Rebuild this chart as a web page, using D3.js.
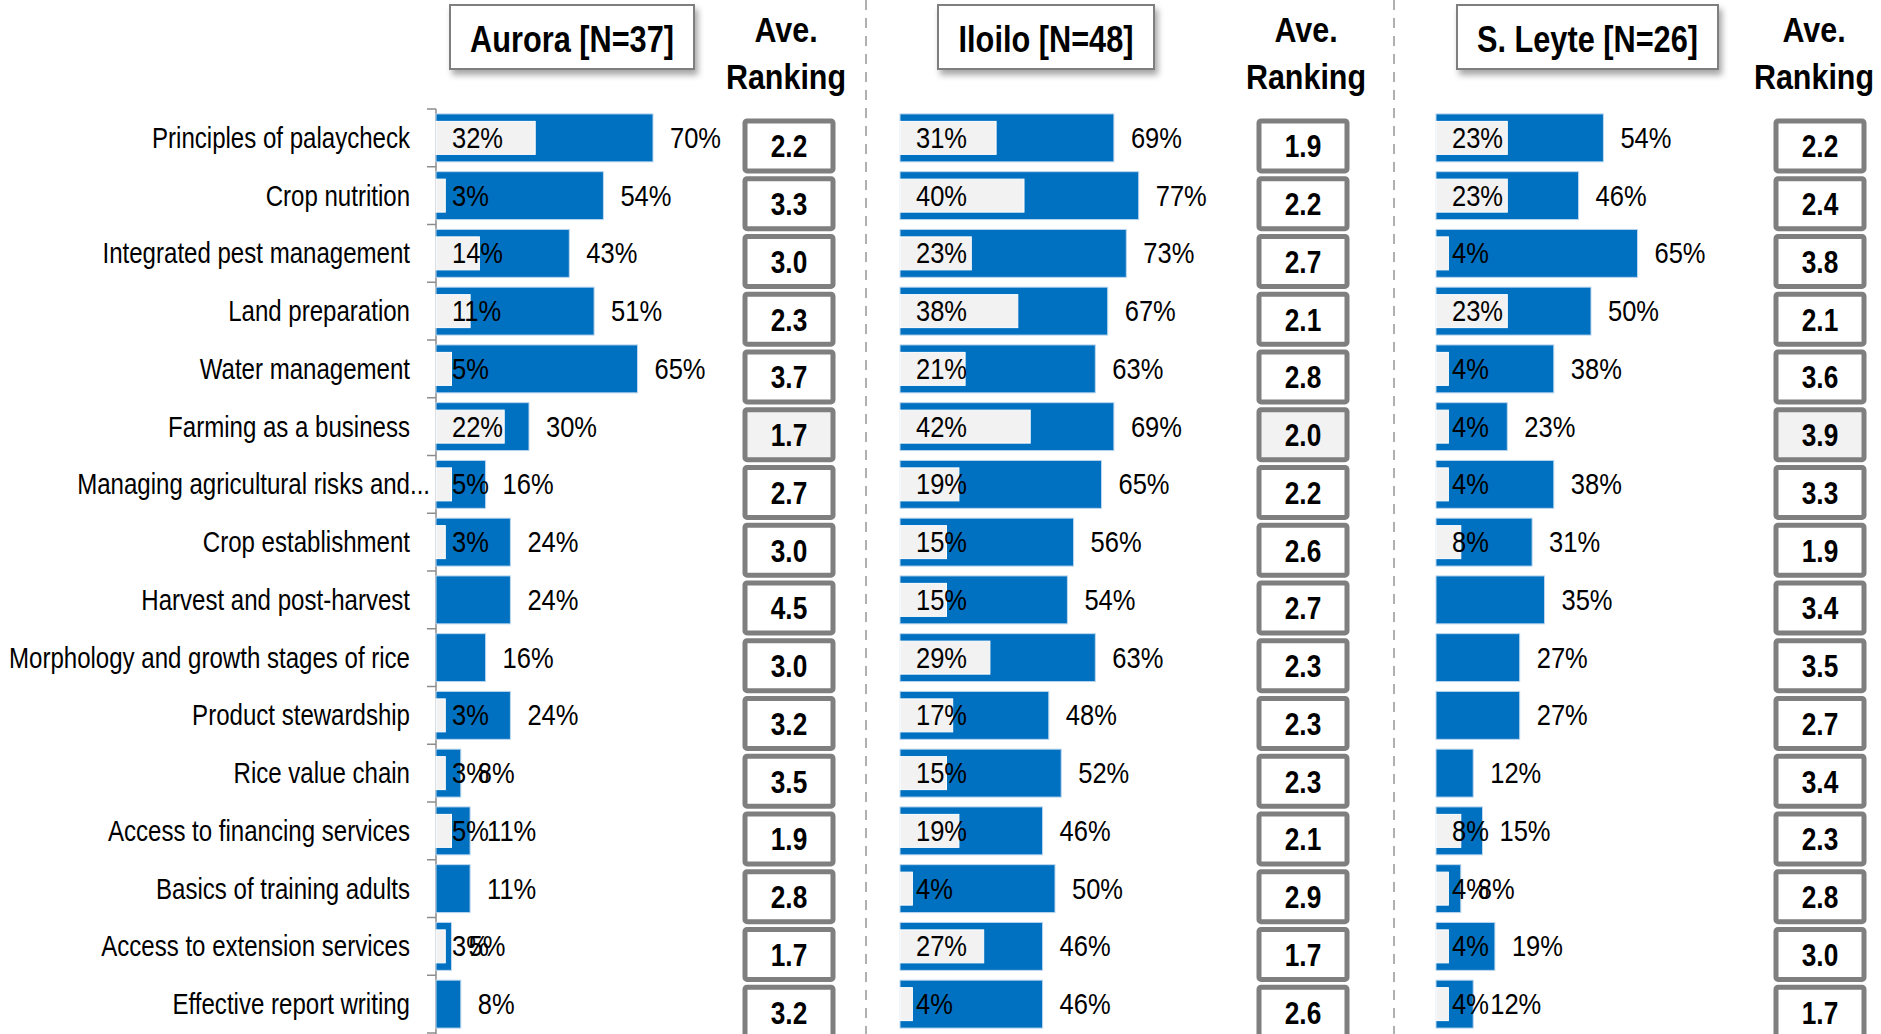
<!DOCTYPE html>
<html>
<head>
<meta charset="utf-8">
<script src="https://cdn.jsdelivr.net/npm/d3@7"></script>
<style>
  body { margin: 0; background: #fff; }
  svg text { font-family: "Liberation Sans", Arial, sans-serif; fill: #000; }
</style>
</head>
<body>
<div id="chart"></div>
<script>
// topics, top to bottom
const topics = [
  "Principles of palaycheck", "Crop nutrition", "Integrated pest management",
  "Land preparation", "Water management", "Farming as a business",
  "Managing agricultural risks and...", "Crop establishment",
  "Harvest and post-harvest", "Morphology and growth stages of rice",
  "Product stewardship", "Rice value chain", "Access to financing services",
  "Basics of training adults", "Access to extension services",
  "Effective report writing"
];

const provinces = ["Aurora [N=37]", "Iloilo [N=48]", "S. Leyte [N=26]"];

// outer (blue) bars, %
const auroraTotal = [70, 54, 43, 51, 65, 30, 16, 24, 24, 16, 24, 8, 11, 11, 5, 8];
const iloiloTotal = [69, 77, 73, 67, 63, 69, 65, 56, 54, 63, 48, 52, 46, 50, 46, 46];
const leyteTotal  = [54, 46, 65, 50, 38, 23, 38, 31, 35, 27, 27, 12, 15, 8, 19, 12];

// inner (light) bars, %  (null = none)
const auroraInner = [32, 3, 14, 11, 5, 22, 5, 3, null, null, 3, 3, 5, null, 3, null];
const iloiloInner = [31, 40, 23, 38, 21, 42, 19, 15, 15, 29, 17, 15, 19, 4, 27, 4];
const leyteInner  = [23, 23, 4, 23, 4, 4, 4, 8, null, null, null, null, 8, 4, 4, 4];

// average ranking
const auroraRank = [2.2, 3.3, 3.0, 2.3, 3.7, 1.7, 2.7, 3.0, 4.5, 3.0, 3.2, 3.5, 1.9, 2.8, 1.7, 3.2];
const iloiloRank = [1.9, 2.2, 2.7, 2.1, 2.8, 2.0, 2.2, 2.6, 2.7, 2.3, 2.3, 2.3, 2.1, 2.9, 1.7, 2.6];
const leyteRank  = [2.2, 2.4, 3.8, 2.1, 3.6, 3.9, 3.3, 1.9, 3.4, 3.5, 2.7, 3.4, 2.3, 2.8, 3.0, 1.7];

const highlightTopic = "Farming as a business";

const totals = [auroraTotal, iloiloTotal, leyteTotal];
const inners = [auroraInner, iloiloInner, leyteInner];
const ranks = [auroraRank, iloiloRank, leyteRank];

// layout of the three panels
const panels = [
  { axis: 436, head: [450, 694], rankX: 786, boxX: 745 },
  { axis: 900, head: [938, 1154], rankX: 1306, boxX: 1259 },
  { axis: 1436, head: [1457, 1718], rankX: 1814, boxX: 1776 }
];
const dividers = [866, 1394];

const W = 1881, H = 1034;
const blue = "#0070C0", light = "#F2F2F2", grey = "#7F7F7F";

// no narrow font installed, so squeeze the text horizontally
const SX_LABEL = 0.83, SX_PCT = 0.88, SX_HEAD = 0.83, SX_RANK = 0.82;

function squeeze(x, y, sx) {
  return `translate(${x},${y}) scale(${sx},1)`;
}

const svg = d3.select("#chart").append("svg")
  .attr("width", W)
  .attr("height", H);

const defs = svg.append("defs");
const shadow = defs.append("filter").attr("id", "shadow")
  .attr("x", "-10%").attr("y", "-20%").attr("width", "130%").attr("height", "160%");
shadow.append("feDropShadow")
  .attr("dx", 3).attr("dy", 5).attr("stdDeviation", 3)
  .attr("flood-color", "#000").attr("flood-opacity", 0.35);

const y = d3.scaleBand()
  .domain(topics)
  .range([109, 1033])
  .paddingInner(0.17)
  .paddingOuter(0.085);

const x = d3.scaleLinear().domain([0, 100]).range([0, 310]);

const innerH = 33;
const mid = t => y(t) + y.bandwidth() / 2;

// dashed dividers
svg.selectAll("line.divider")
  .data(dividers)
  .enter()
  .append("line")
  .attr("class", "divider")
  .attr("x1", d => d).attr("x2", d => d)
  .attr("y1", 0).attr("y2", H)
  .attr("stroke", "#B0B0B0")
  .attr("stroke-width", 2)
  .attr("stroke-dasharray", "10,8");

// topic labels
const labels = svg.append("g").attr("class", "labels");
topics.forEach((t) => {
  const cut = t.endsWith("...");
  labels.append("text")
    .attr("transform", squeeze(410, mid(t) + 10, SX_LABEL))
    .attr("text-anchor", "end")
    .style("font-size", "29px")
    .text(cut ? t.slice(0, -3) : t);
  if (cut) {
    labels.append("text")
      .attr("transform", squeeze(410, mid(t) + 10, SX_LABEL))
      .style("font-size", "29px")
      .text("...");
  }
});

// category axis, first panel only
const axisG = svg.append("g")
  .attr("transform", `translate(${panels[0].axis},0)`);
axisG.append("line")
  .attr("x1", 0).attr("x2", 0)
  .attr("y1", 109).attr("y2", H)
  .attr("stroke", "#8C8C8C").attr("stroke-width", 1.5);
axisG.selectAll("line.tick")
  .data(d3.range(topics.length + 1))
  .enter()
  .append("line")
  .attr("class", "tick")
  .attr("x1", -9).attr("x2", 0)
  .attr("y1", i => 109 + i * y.step())
  .attr("y2", i => 109 + i * y.step())
  .attr("stroke", "#8C8C8C").attr("stroke-width", 1.5);

panels.forEach((p, k) => {
  const rows = topics.map((t, i) => ({
    topic: t, total: totals[k][i], inner: inners[k][i], rank: ranks[k][i]
  }));

  const g = svg.append("g").attr("transform", `translate(${p.axis},0)`);

  // blue bars
  g.selectAll("rect.total")
    .data(rows)
    .enter()
    .append("rect")
    .attr("class", "total")
    .attr("x", 0)
    .attr("y", d => y(d.topic))
    .attr("width", d => x(d.total))
    .attr("height", y.bandwidth())
    .attr("fill", blue)
    .attr("stroke", "#BDD7EE")
    .attr("stroke-width", 1);

  const withInner = rows.filter(d => d.inner != null);

  // light bars
  g.selectAll("rect.inner")
    .data(withInner)
    .enter()
    .append("rect")
    .attr("class", "inner")
    .attr("x", 0)
    .attr("y", d => mid(d.topic) - innerH / 2)
    .attr("width", d => x(d.inner))
    .attr("height", innerH)
    .attr("fill", light)
    .attr("stroke", "#FFFFFF")
    .attr("stroke-width", 1);

  // inside-base labels
  g.selectAll("text.inner")
    .data(withInner)
    .enter()
    .append("text")
    .attr("class", "inner")
    .attr("transform", d => squeeze(16, mid(d.topic) + 10, SX_PCT))
    .style("font-size", "29px")
    .text(d => d.inner + "%");

  // outside-end labels
  g.selectAll("text.total")
    .data(rows)
    .enter()
    .append("text")
    .attr("class", "total")
    .attr("transform", d => squeeze(x(d.total) + 17, mid(d.topic) + 10, SX_PCT))
    .style("font-size", "29px")
    .text(d => d.total + "%");

  // header box
  svg.append("rect")
    .attr("x", p.head[0]).attr("y", 5)
    .attr("width", p.head[1] - p.head[0]).attr("height", 64)
    .attr("fill", "#fff")
    .attr("stroke", grey).attr("stroke-width", 2)
    .attr("filter", "url(#shadow)");
  svg.append("text")
    .attr("transform", squeeze((p.head[0] + p.head[1]) / 2, 52, SX_HEAD))
    .attr("text-anchor", "middle")
    .style("font-size", "37px")
    .style("font-weight", "bold")
    .text(provinces[k]);

  // Ave. Ranking heading
  svg.append("text")
    .attr("transform", squeeze(p.rankX, 42, 0.87))
    .attr("text-anchor", "middle")
    .style("font-size", "35px").style("font-weight", "bold")
    .text("Ave.");
  svg.append("text")
    .attr("transform", squeeze(p.rankX, 89, 0.87))
    .attr("text-anchor", "middle")
    .style("font-size", "35px").style("font-weight", "bold")
    .text("Ranking");

  // ranking boxes
  const box = svg.append("g");
  box.selectAll("rect")
    .data(rows)
    .enter()
    .append("rect")
    .attr("x", p.boxX)
    .attr("y", d => mid(d.topic) + 8 - 25)
    .attr("width", 88)
    .attr("height", 50)
    .attr("rx", 2)
    .attr("fill", d => d.topic === highlightTopic ? light : "#fff")
    .attr("stroke", grey)
    .attr("stroke-width", 5)
    .attr("stroke-linejoin", "round");
  box.selectAll("text")
    .data(rows)
    .enter()
    .append("text")
    .attr("transform", d => squeeze(p.boxX + 44, mid(d.topic) + 8 + 11.5, SX_RANK))
    .attr("text-anchor", "middle")
    .style("font-size", "32px")
    .style("font-weight", "bold")
    .text(d => d.rank.toFixed(1));
});
</script>
</body>
</html>
